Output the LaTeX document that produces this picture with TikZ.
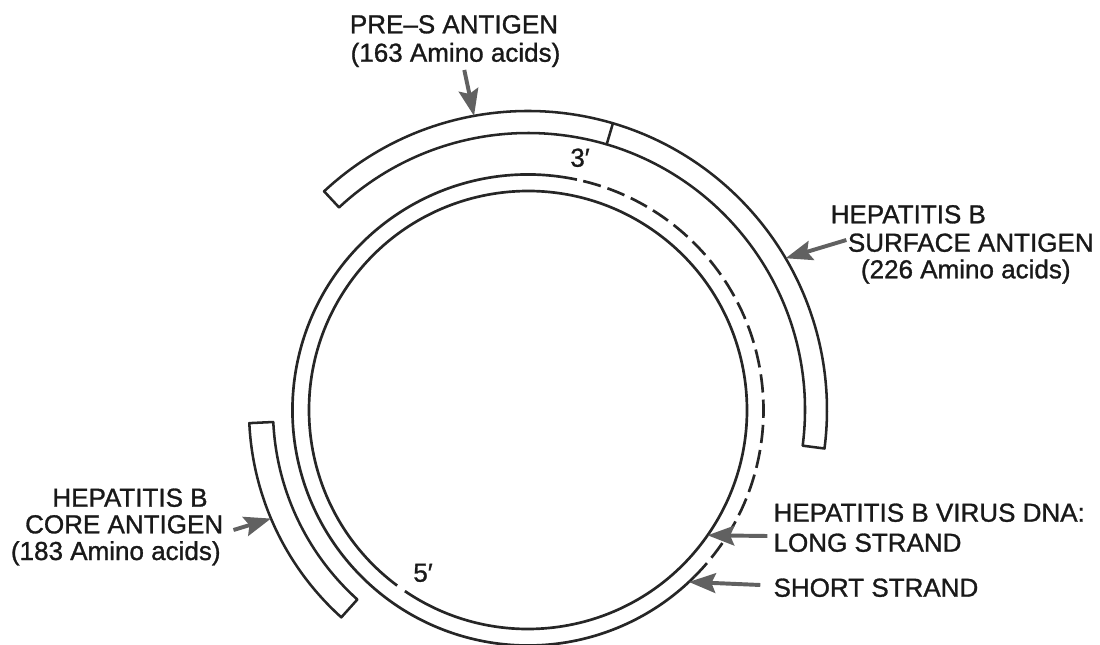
\documentclass[tikz,border=0pt]{standalone}
\usepackage{fontspec}
\setmainfont{Liberation Sans}
\newfontfamily\lblfont{Liberation Sans}[FakeBold=1.1]
\usepackage{tikz}
\usetikzlibrary{arrows.meta, calc}

\begin{document}
\begin{tikzpicture}[
        x=0.025cm, y=0.025cm, >=Stealth,
        strand/.style={line width=1.9pt, draw=black!85},
        band/.style={line width=1.8pt, draw=black!85, line join=round},
        lbl/.style={inner sep=0pt, font=\lblfont\fontsize{18.5}{22}\selectfont, text=black!90},
        pointer/.style={-{Stealth[length=19pt, width=14pt, inset=3pt]}, line width=2.8pt, draw=black!62},
    ]
    \useasboundingbox (-528,-235) rectangle (572,410);
    % DNA strands
    \draw[strand] (235.8:219) arc[start angle=235.8, end angle=593.3, radius=219];
    \draw[strand] (78:235.5) arc[start angle=78, end angle=315, radius=235.5];
    \draw[strand, dash pattern=on 13pt off 5pt] (-45:235.5) arc[start angle=-45, end angle=78, radius=235.5];
    % antigen bands
    \draw[band] (133:299) arc[start angle=133, end angle=-7.4, radius=299] -- (-7.4:277)
        arc[start angle=-7.4, end angle=133, radius=277] -- cycle;
    \draw[band] (73.5:277) -- (73.5:299);
    \draw[band] (182.7:279) arc[start angle=182.7, end angle=228, radius=279] -- (228:255)
        arc[start angle=228, end angle=182.7, radius=255] -- cycle;
    \coordinate (preSpt) at (100.4:299);
    \coordinate (surfPt) at (30.5:299);
    \coordinate (corePt) at (202.9:279);
    \coordinate (longPt) at (-34.9:219);
    \coordinate (shortPt) at (-46.9:235.5);
    \node[lbl, anchor=base] (preS1) at (-74,376.7) {PRE–S ANTIGEN};
    \node[lbl, anchor=base] (preS2) at (-72.5,348.3) {(163 Amino acids)};
    \node[lbl, anchor=base] (surf1) at (380.3,186.7) {HEPATITIS B};
    \node[lbl, anchor=base] (surf2) at (442.8,158.3) {SURFACE ANTIGEN};
    \node[lbl, anchor=base] (surf3) at (437.8,131.7) {(226 Amino acids)};
    \node[lbl, anchor=base] (core1) at (-398,-96.7) {HEPATITIS B};
    \node[lbl, anchor=base] (core2) at (-403.8,-123.3) {CORE ANTIGEN};
    \node[lbl, anchor=base] (core3) at (-412.2,-150) {(183 Amino acids)};
    \node[lbl, anchor=base west] (dna1) at (245.3,-111.7) {HEPATITIS B VIRUS DNA:};
    \node[lbl, anchor=base west] (dna2) at (245.3,-141.7) {LONG STRAND};
    \node[lbl, anchor=base west] (dna3) at (245.3,-186.7) {SHORT STRAND};
    \node[lbl, anchor=base] (end3) at (52,243.3) {3′};
    \node[lbl, anchor=base] (end5) at (-105,-171.7) {5′};
    \draw[pointer] ($(preS2.base)+(8.8,-8.3)$) -- (preSpt);
    \draw[pointer] ($(surf2.base west)+(-1.3,11.7)$) -- (surfPt);
    \draw[pointer] ($(core2.base east)+(10,3.3)$) -- (corePt);
    \draw[pointer] ($(dna2.base west)+(-6,15.7)$) -- (longPt);
    \draw[pointer] ($(dna3.base west)+(-13,11.7)$) -- (shortPt);
\end{tikzpicture}
\end{document}
